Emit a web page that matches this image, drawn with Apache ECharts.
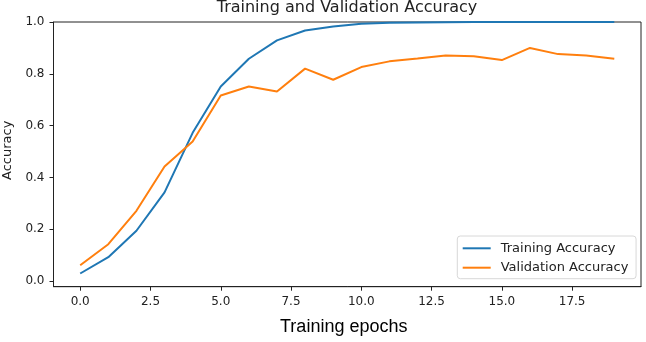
<!DOCTYPE html>
<html>
<head>
<meta charset="utf-8">
<script src="https://cdn.jsdelivr.net/npm/echarts@6/dist/echarts.min.js"></script>
<style>
html,body{margin:0;padding:0;background:#fff;}
#chart{width:646px;height:342px;}
</style>
</head>
<body>
<div id="chart"></div>
<script>
const epochs = [0,1,2,3,4,5,6,7,8,9,10,11,12,13,14,15,16,17,18,19];
const trainingAccuracy = [0.029,0.092,0.194,0.342,0.572,0.751,0.858,0.929,0.967,0.983,0.993,0.997,0.998,0.999,1.0,1.0,1.0,1.0,1.0,1.0];
const validationAccuracy = [0.061,0.142,0.271,0.442,0.539,0.716,0.751,0.732,0.820,0.777,0.826,0.848,0.859,0.871,0.868,0.853,0.900,0.876,0.871,0.858];
const xTicks = [0,2.5,5,7.5,10,12.5,15,17.5];
const yTicks = [0,0.2,0.4,0.6,0.8,1.0];

const chart = echarts.init(document.getElementById('chart'), null, {renderer:'canvas'});
const font = 'DejaVu Sans';
const dark = '#222';
chart.setOption({
  animation:false,
  backgroundColor:'#fff',
  title:{
    text:'Training and Validation Accuracy',
    left:347, top:0, textAlign:'center',
    textStyle:{fontFamily:font,fontSize:16,fontWeight:'normal',color:dark,lineHeight:16},
    padding:0
  },
  grid:{left:53.5,right:5,top:22,bottom:55.3,show:true,borderColor:dark,borderWidth:1,backgroundColor:'transparent',outerBoundsMode:'none',containLabel:false},
  legend:{
    left:457.3, top:236, orient:'vertical',
    data:['Training Accuracy','Validation Accuracy'],
    icon:'rect', itemWidth:28, itemHeight:2, itemGap:4.4,
    padding:[4.8,7.7,3.5,5.4],
    borderColor:'#d8d8d8', borderWidth:1, borderRadius:3, backgroundColor:'rgba(255,255,255,0.8)',
    textStyle:{fontFamily:font,fontSize:13,color:dark,lineHeight:15,padding:[0,0,0,5]}
  },
  xAxis:{
    type:'value', min:-0.95, max:19.95,
    name:'Training epochs', nameLocation:'middle', nameGap:31,
    nameTextStyle:{fontFamily:'Liberation Sans',fontSize:18,color:'#000',padding:[0,7,0,0]},
    splitLine:{show:false},
    axisLine:{show:true,onZero:false,lineStyle:{color:dark,width:1}},
    axisTick:{show:true,length:4,lineStyle:{color:dark},customValues:xTicks},
    axisLabel:{fontFamily:font,fontSize:12,color:dark,margin:9,customValues:xTicks,formatter:v=>v.toFixed(1)}
  },
  yAxis:{
    type:'value', min:-0.022, max:1.0,
    name:'Accuracy', nameLocation:'middle', nameGap:34, nameRotate:90,
    nameTextStyle:{fontFamily:font,fontSize:13,color:dark,padding:[0,0,0,8]},
    splitLine:{show:false},
    axisLine:{show:true,onZero:false,lineStyle:{color:dark,width:1}},
    axisTick:{show:true,length:4,lineStyle:{color:dark},customValues:yTicks},
    axisLabel:{fontFamily:font,fontSize:12,color:dark,margin:9,customValues:yTicks,formatter:v=>v.toFixed(1)}
  },
  series:[
    {name:'Training Accuracy',type:'line',data:epochs.map((e,i)=>[e,trainingAccuracy[i]]),
     symbol:'none',lineStyle:{color:'#1f77b4',width:2},itemStyle:{color:'#1f77b4'},z:2},
    {name:'Validation Accuracy',type:'line',data:epochs.map((e,i)=>[e,validationAccuracy[i]]),
     symbol:'none',lineStyle:{color:'#ff7f0e',width:2},itemStyle:{color:'#ff7f0e'},z:3}
  ]
});
</script>
</body>
</html>
